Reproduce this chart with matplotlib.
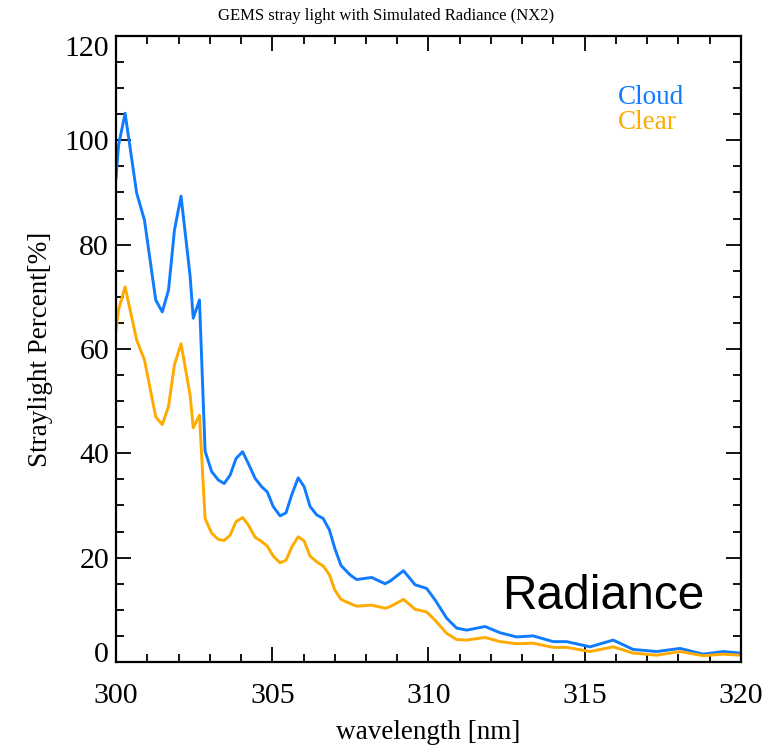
import matplotlib
matplotlib.use('Agg')
import matplotlib.pyplot as plt
from matplotlib.ticker import MultipleLocator

# Wavelength samples [nm] and straylight percent for each case
wavelength = [300.0, 300.08, 300.29, 300.66, 300.91, 301.27, 301.48, 301.68, 301.87, 302.08,
              302.37, 302.47, 302.67, 302.85, 303.06, 303.27, 303.46, 303.65, 303.84, 304.05,
              304.23, 304.45, 304.66, 304.84, 305.03, 305.25, 305.44, 305.62, 305.83, 306.02,
              306.21, 306.42, 306.63, 306.83, 307.0, 307.2, 307.49, 307.7, 308.18, 308.61,
              308.77, 309.2, 309.57, 309.94, 310.21, 310.58, 310.9, 311.22, 311.81, 312.29,
              312.82, 313.35, 313.99, 314.42, 315.17, 315.91, 316.55, 317.3, 318.05, 318.79,
              319.43, 320.0]
cloud = [92.8, 99.0, 105.2, 89.9, 84.7, 69.4, 67.1, 71.3, 82.8, 89.3,
         74.0, 65.9, 69.4, 40.4, 36.5, 34.9, 34.2, 35.8, 39.0, 40.3,
         38.1, 35.2, 33.6, 32.6, 29.8, 28.0, 28.6, 32.0, 35.3, 33.6,
         29.8, 28.2, 27.5, 25.3, 21.8, 18.5, 16.7, 15.8, 16.2, 15.0,
         15.5, 17.5, 14.8, 14.1, 11.9, 8.4, 6.5, 6.1, 6.8, 5.6,
         4.8, 5.0, 3.9, 3.9, 2.9, 4.2, 2.4, 2.0, 2.6, 1.5,
         2.0, 1.7]
clear = [63.6, 67.5, 71.9, 61.7, 57.9, 47.0, 45.5, 49.0, 57.0, 61.0,
         51.2, 44.9, 47.3, 27.5, 24.7, 23.5, 23.3, 24.3, 26.9, 27.7,
         26.3, 23.9, 23.1, 22.2, 20.3, 19.0, 19.5, 22.0, 24.0, 23.2,
         20.3, 19.2, 18.4, 16.7, 13.8, 12.0, 11.2, 10.7, 10.9, 10.3,
         10.6, 12.0, 10.1, 9.6, 8.0, 5.5, 4.3, 4.2, 4.7, 3.9,
         3.5, 3.6, 2.8, 2.8, 2.0, 2.9, 1.7, 1.3, 2.0, 1.2,
         1.5, 1.3]

blue = '#0F7BFF'
orange = '#FFAA00'
serif = 'Liberation Serif'

fig = plt.figure(figsize=(7.72, 7.48), dpi=100)
ax = fig.add_axes([0.1503, 0.115, 0.8095, 0.8369])

ax.plot(wavelength, cloud, color=blue, lw=2.1)
ax.plot(wavelength, clear, color=orange, lw=2.1)

ax.set_xlim(300, 320)
ax.set_ylim(0, 120)
ax.xaxis.set_major_locator(MultipleLocator(5))
ax.xaxis.set_minor_locator(MultipleLocator(1))
ax.yaxis.set_major_locator(MultipleLocator(20))
ax.yaxis.set_minor_locator(MultipleLocator(5))
ax.tick_params(which='both', direction='in', top=True, right=True, width=1.3, colors='black')
ax.tick_params(which='major', length=11)
ax.tick_params(which='minor', length=6)
ax.tick_params(axis='x', which='major', pad=15)
ax.tick_params(axis='y', which='major', pad=5)
ax.tick_params(labelsize=21.5)
fig.canvas.draw()
for lab in ax.get_xticklabels() + ax.get_yticklabels():
    lab.set_fontfamily(serif)
# end labels on the y axis sit inside the axis range, as in the original
for tick in ax.yaxis.get_major_ticks():
    if abs(tick.get_loc() - 120) < 1e-6:
        tick.label1.set_va('top')
    elif abs(tick.get_loc()) < 1e-6:
        tick.label1.set_va('baseline')
for s in ax.spines.values():
    s.set_linewidth(1.6)

fig.text(0.5, 0.978, 'GEMS stray light with Simulated Radiance (NX2)', family=serif,
         fontsize=12, ha='center', va='center')
ax.set_xlabel('wavelength [nm]', family=serif, fontsize=19.5, labelpad=8)
ax.set_ylabel('Straylight Percent[%]', family=serif, fontsize=19.5, labelpad=8)

ax.text(0.803, 0.902, 'Cloud', transform=ax.transAxes, color=blue, family=serif, fontsize=19.5,
        ha='left', va='center')
ax.text(0.803, 0.862, 'Clear', transform=ax.transAxes, color=orange, family=serif, fontsize=19.5,
        ha='left', va='center')
ax.text(315.6, 10.1, 'Radiance', family='Liberation Sans', fontsize=34.5, ha='center', va='baseline')

fig.savefig('out.png', dpi=100)
